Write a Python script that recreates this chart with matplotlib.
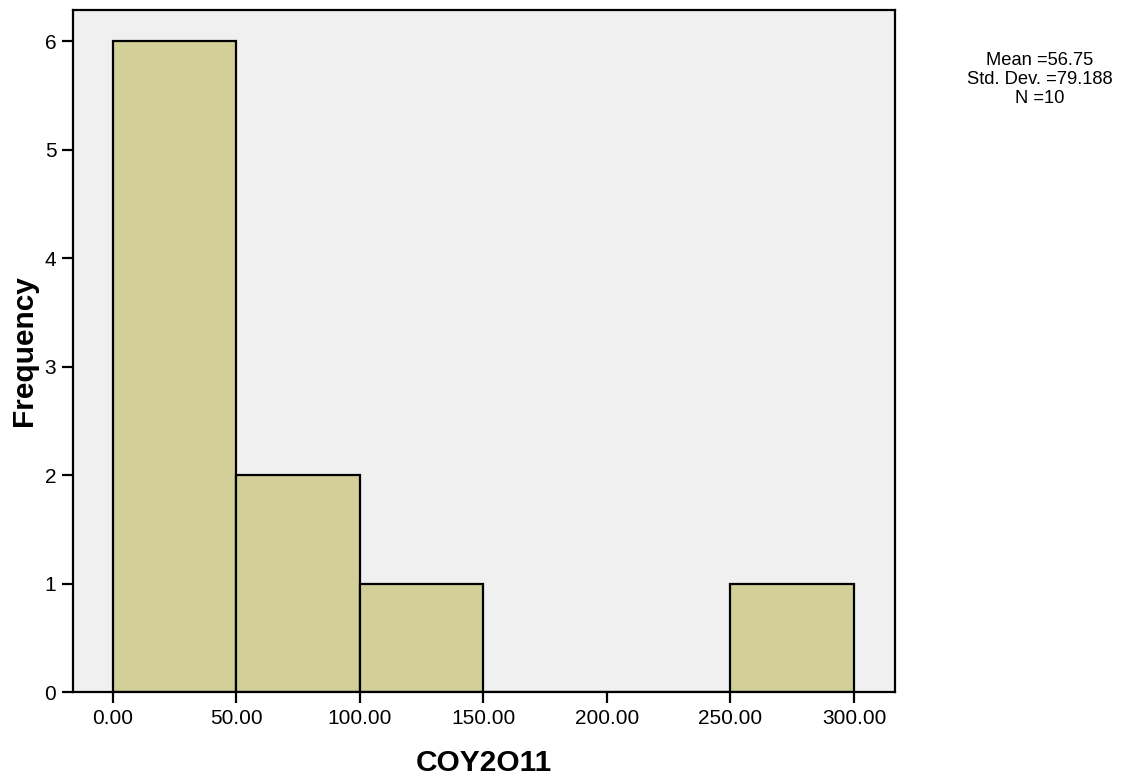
import matplotlib
matplotlib.use('Agg')
import matplotlib.pyplot as plt

plt.rcParams['font.family'] = ['Liberation Sans', 'DejaVu Sans']

# histogram of COY2O11, bin width 50
bin_edges = [0, 50, 100, 150, 200, 250, 300]
counts = [6, 2, 1, 0, 0, 1]
stats_text = ['Mean =56.75', 'Std. Dev. =79.188', 'N =10']

fig = plt.figure(figsize=(11.31, 7.84), dpi=100)
ax = fig.add_axes([0.0645, 0.1173, 0.7268, 0.8699])
ax.set_facecolor('#F0F0F0')

lefts = bin_edges[:-1]
widths = [b - a for a, b in zip(bin_edges[:-1], bin_edges[1:])]
ax.bar(lefts, counts, width=widths, align='edge', color='#D3CF98',
       edgecolor='black', linewidth=1.6)

ax.set_xlim(-16.2, 316.6)
ax.set_ylim(0, 6.286)
ax.set_xticks(bin_edges)
ax.set_xticklabels(['%.2f' % v for v in bin_edges])
ax.set_yticks(range(7))

for sp in ax.spines.values():
    sp.set_linewidth(1.6)
ax.tick_params(direction='out', length=8, width=1.6, labelsize=15, pad=4)

ax.set_xlabel('COY2O11', fontsize=21.5, fontweight='bold', labelpad=15)
ax.set_ylabel('Frequency', fontsize=21.5, fontweight='bold', labelpad=5)

fig.text(0.9195, 0.899, '\n'.join(stats_text), ha='center', va='center',
         fontsize=13.2, linespacing=1.15)

fig.savefig('out.png', dpi=100)
